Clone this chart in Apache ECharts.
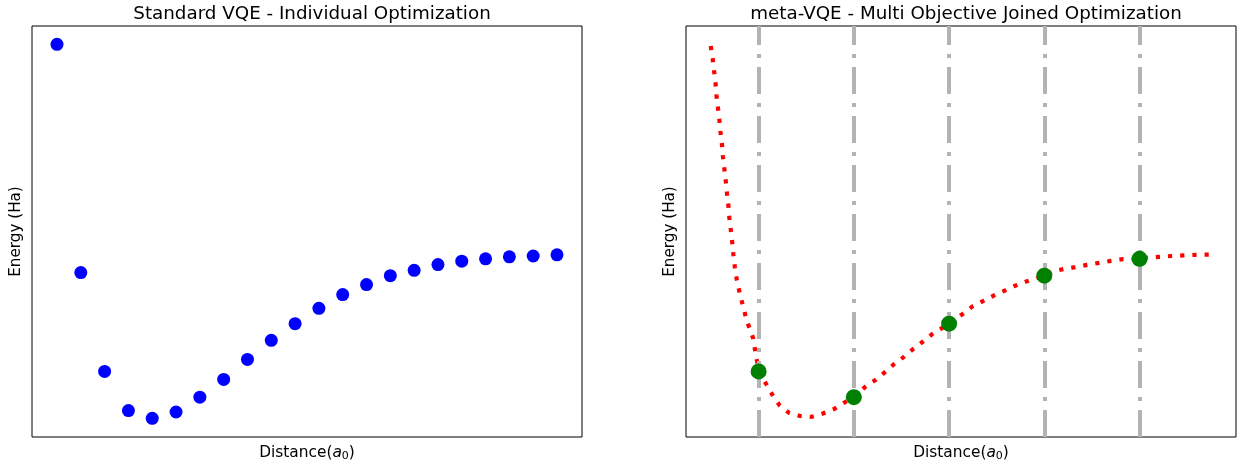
<!DOCTYPE html>
<html>
<head>
<meta charset="utf-8">
<script src="https://cdn.jsdelivr.net/npm/echarts@6/dist/echarts.min.js"></script>
<style>
html,body{margin:0;padding:0;background:#fff;}
#chart{width:1241px;height:468px;}
</style>
</head>
<body>
<div id="chart"></div>
<script>
// ---- data ----
const distances = [0.2,0.3,0.4,0.5,0.6,0.7,0.8,0.9,1.0,1.1,1.2,1.3,1.4,1.5,1.6,1.7,1.8,1.9,2.0,2.1,2.2,2.3];
const vqeEnergies = [0.169,-0.630,-0.976,-1.113,-1.140,-1.118,-1.066,-1.004,-0.934,-0.867,-0.809,-0.755,-0.707,-0.672,-0.641,-0.622,-0.602,-0.590,-0.582,-0.575,-0.572,-0.568];

const trainDistances = [0.4,0.8,1.2,1.6,2.0];
const trainEnergies = [-0.976,-1.066,-0.809,-0.641,-0.582];

const curveDistances = [0.199,0.207,0.213,0.219,0.223,0.229,0.235,0.240,0.246,0.250,0.256,0.262,0.267,0.273,0.277,0.283,0.289,0.294,0.300,0.308,0.319,0.331,0.344,0.359,0.377,0.389,0.402,0.431,0.458,0.488,0.528,0.574,0.622,0.670,0.718,0.764,0.800,0.846,0.889,0.928,0.968,1.009,1.047,1.088,1.128,1.200,1.257,1.297,1.342,1.389,1.434,1.480,1.528,1.600,1.637,1.680,1.730,1.780,1.830,1.879,1.931,2.000,2.031,2.082,2.133,2.184,2.236,2.300];
const curveEnergies = [0.163,0.118,0.075,0.033,-0.010,-0.052,-0.094,-0.138,-0.181,-0.223,-0.266,-0.309,-0.352,-0.395,-0.438,-0.480,-0.523,-0.567,-0.610,-0.653,-0.695,-0.736,-0.778,-0.819,-0.860,-0.922,-0.976,-1.019,-1.058,-1.095,-1.121,-1.132,-1.135,-1.123,-1.107,-1.083,-1.066,-1.031,-1.007,-0.980,-0.951,-0.926,-0.899,-0.873,-0.846,-0.809,-0.775,-0.749,-0.730,-0.710,-0.693,-0.675,-0.660,-0.641,-0.626,-0.618,-0.611,-0.603,-0.596,-0.589,-0.583,-0.582,-0.578,-0.575,-0.572,-0.570,-0.568,-0.567];

const titles = ['Standard VQE - Individual Optimization','meta-VQE - Multi Objective Joined Optimization'];
const xName = 'Distance({i|a}{s|0})';
const yName = 'Energy (Ha)';

const X_MIN = 0.095, X_MAX = 2.405, Y_MIN = -1.2055, Y_MAX = 0.233;
const FONT = 'DejaVu Sans';

function zip(a,b){return a.map((v,i)=>[v,b[i]]);}

const nameStyle = {
  fontFamily: FONT, fontSize: 15.4, color: '#000',
  rich: {
    i: {fontFamily: FONT, fontSize: 15.4, fontStyle: 'italic', color:'#000'},
    s: {fontFamily: FONT, fontSize: 11, color:'#000', verticalAlign:'bottom', padding:[7,0,0,0]}
  }
};

function xAxis(idx){
  return {type:'value', gridIndex: idx, min: X_MIN, max: X_MAX,
    axisLine:{show:false}, axisTick:{show:false}, axisLabel:{show:false}, splitLine:{show:false},
    name: xName, nameLocation:'middle', nameGap: 7, nameTextStyle: nameStyle};
}
function yAxis(idx){
  return {type:'value', gridIndex: idx, min: Y_MIN, max: Y_MAX,
    axisLine:{show:false}, axisTick:{show:false}, axisLabel:{show:false}, splitLine:{show:false},
    name: yName, nameLocation:'middle', nameGap: 8, nameTextStyle:{fontFamily: FONT, fontSize: 15.2, color:'#000'}};
}

const chart = echarts.init(document.getElementById('chart'), null, {renderer:'canvas'});
chart.setOption({
  animation: false,
  backgroundColor: '#fff',
  title: [
    {text: titles[0], left: 307, top: 0, textAlign:'center', textStyle:{fontFamily: FONT, fontSize: 18.3, fontWeight:'normal', color:'#000'}},
    {text: titles[1], left: 961, top: 0, textAlign:'center', textStyle:{fontFamily: FONT, fontSize: 18.3, fontWeight:'normal', color:'#000'}}
  ],
  grid: [
    {left: 32, right: 659, top: 26, bottom: 31, show: true, borderColor:'#000', borderWidth: 1, backgroundColor:'transparent'},
    {left: 686, right: 5, top: 26, bottom: 31, show: true, borderColor:'#000', borderWidth: 1, backgroundColor:'transparent'}
  ],
  xAxis: [xAxis(0), xAxis(1)],
  yAxis: [yAxis(0), yAxis(1)],
  series: [
    {type:'scatter', xAxisIndex:0, yAxisIndex:0, data: zip(distances, vqeEnergies),
     symbol:'circle', symbolSize: 13, itemStyle:{color:'#0000ff', opacity: 1}, silent:true},
    {type:'line', xAxisIndex:1, yAxisIndex:1, data: [], z: 1, silent: true,
     markLine: {silent: true, symbol:['none','none'], label:{show:false},
       lineStyle:{color:'#b3b3b3', width: 4, type:[27,9,4,9], cap:'butt'},
       emphasis:{disabled:true},
       data: trainDistances.map(d=>({xAxis: d}))}},
    {type:'line', xAxisIndex:1, yAxisIndex:1, data: zip(curveDistances, curveEnergies), z: 2,
     showSymbol:false, symbol:'none', smooth:false, silent:true,
     lineStyle:{color:'#ff0000', width: 4.2, type:[4.2,8], cap:'butt'}},
    {type:'scatter', xAxisIndex:1, yAxisIndex:1, data: zip(trainDistances, trainEnergies), z: 5,
     symbol:'circle', symbolSize: 16, itemStyle:{color:'#008000', opacity: 1}, silent:true}
  ]
});
</script>
</body>
</html>
